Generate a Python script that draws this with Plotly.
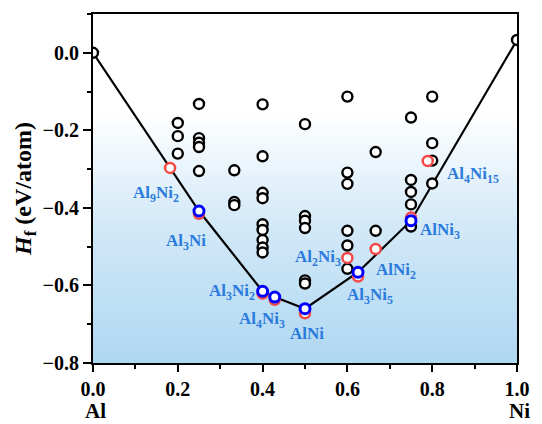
import plotly.graph_objects as go

# ---- data ----
# other (black) structures
black_x = [0.0, 1.0,
           0.2, 0.2, 0.2,
           0.25, 0.25, 0.25, 0.25, 0.25,
           0.3333, 0.3333, 0.3333,
           0.4, 0.4, 0.4, 0.4, 0.4, 0.4, 0.4, 0.4, 0.4,
           0.5, 0.5, 0.5, 0.5, 0.5, 0.5,
           0.6, 0.6, 0.6, 0.6, 0.6, 0.6,
           0.6667, 0.6667,
           0.75, 0.75, 0.75, 0.75, 0.75,
           0.8, 0.8, 0.8, 0.8]
black_y = [0.0, 0.033,
           -0.181, -0.215, -0.260,
           -0.132, -0.220, -0.232, -0.243, -0.305,
           -0.303, -0.385, -0.393,
           -0.133, -0.267, -0.361, -0.375, -0.442, -0.457, -0.483, -0.502, -0.515,
           -0.184, -0.421, -0.433, -0.452, -0.587, -0.595,
           -0.113, -0.309, -0.338, -0.459, -0.497, -0.557,
           -0.256, -0.459,
           -0.167, -0.328, -0.359, -0.391, -0.448,
           -0.113, -0.233, -0.278, -0.337]

# red (experimental / reported) phases
red_x = [0.1818, 0.25, 0.4, 0.4286, 0.5, 0.6, 0.625, 0.6667, 0.75, 0.7895]
red_y = [-0.297, -0.415, -0.621, -0.637, -0.672, -0.529, -0.577, -0.506, -0.425, -0.279]

# blue (hull) phases
blue_x = [0.25, 0.4, 0.4286, 0.5, 0.625, 0.75]
blue_y = [-0.408, -0.615, -0.630, -0.660, -0.566, -0.433]

# convex hull line
hull_x = [0.0, 0.25, 0.4, 0.4286, 0.5, 0.625, 0.75, 1.0]
hull_y = [0.0, -0.408, -0.615, -0.630, -0.660, -0.566, -0.433, 0.033]

# labels
label_text = ["Al<sub>9</sub>Ni<sub>2</sub>", "Al<sub>3</sub>Ni", "Al<sub>3</sub>Ni<sub>2</sub>",
              "Al<sub>4</sub>Ni<sub>3</sub>", "AlNi", "Al<sub>2</sub>Ni<sub>3</sub>",
              "AlNi<sub>2</sub>", "Al<sub>3</sub>Ni<sub>5</sub>", "AlNi<sub>3</sub>",
              "Al<sub>4</sub>Ni<sub>15</sub>"]
label_x = [0.148, 0.219, 0.327, 0.399, 0.505, 0.531, 0.714, 0.653, 0.818, 0.896]
label_y = [-0.364, -0.487, -0.618, -0.690, -0.723, -0.528, -0.562, -0.626, -0.459, -0.315]

end_labels = ["Al", "Ni"]

x_range = [0.0, 1.0]
y_range = [-0.8, 0.1]
x_ticks = [0.0, 0.2, 0.4, 0.6, 0.8, 1.0]
y_ticks = [-0.8, -0.6, -0.4, -0.2, 0.0]

FONT = "Liberation Serif"
LABEL_BLUE = "#2b7bdc"

fig = go.Figure()

# gradient background
fig.add_trace(go.Scatter(
    x=[x_range[0], x_range[1], x_range[1], x_range[0], x_range[0]],
    y=[y_range[0], y_range[0], y_range[1], y_range[1], y_range[0]],
    mode="lines", line=dict(width=0), fill="toself",
    fillgradient=dict(type="vertical", start=y_range[0], stop=y_range[1],
                      colorscale=[[0.0, "#aed7f1"], [0.4, "#d3e9f8"],
                                  [0.72, "#ffffff"], [1.0, "#ffffff"]]),
    hoverinfo="skip", showlegend=False))

fig.add_trace(go.Scatter(x=hull_x, y=hull_y, mode="lines",
                         line=dict(color="black", width=2.2), showlegend=False))

fig.add_trace(go.Scatter(x=black_x, y=black_y, mode="markers",
                         marker=dict(size=10, color="white", line=dict(color="black", width=2.4)),
                         showlegend=False))
fig.add_trace(go.Scatter(x=red_x, y=red_y, mode="markers",
                         marker=dict(size=10, color="white", line=dict(color="#f44848", width=2.5)),
                         showlegend=False))
fig.add_trace(go.Scatter(x=blue_x, y=blue_y, mode="markers",
                         marker=dict(size=10, color="white", line=dict(color="#0000ff", width=3)),
                         showlegend=False))

for t, lx, ly in zip(label_text, label_x, label_y):
    fig.add_annotation(x=lx, y=ly, text="<b>" + t + "</b>", showarrow=False,
                       font=dict(family=FONT, size=17, color=LABEL_BLUE),
                       xanchor="center", yanchor="middle")

for txt, px in zip(end_labels, [0.007, 1.005]):
    fig.add_annotation(x=px, y=-0.1738, xref="paper", yref="paper", text="<b>" + txt + "</b>",
                       showarrow=False, font=dict(family=FONT, size=21, color="black"),
                       xanchor="center", yanchor="bottom", borderpad=0)

axis_common = dict(showline=True, linecolor="black", linewidth=2, mirror=True,
                   ticks="outside", tickwidth=2, tickcolor="black", showgrid=False,
                   zeroline=False, tickformat=".1f",
                   tickfont=dict(family=FONT, size=20, color="black", weight="bold"))

fig.update_xaxes(range=x_range, tickvals=x_ticks, ticklen=7,
                 minor=dict(dtick=0.1, ticks="outside", ticklen=4, tickwidth=2, tickcolor="black"),
                 **axis_common)
fig.update_yaxes(range=y_range, tickvals=y_ticks, ticklen=8,
                 minor=dict(tickvals=[-0.7, -0.5, -0.3, -0.1, 0.1], ticks="outside",
                            ticklen=4, tickwidth=2, tickcolor="black"),
                 title=dict(text="<i>H</i><sub>f</sub> (eV/atom)", standoff=4,
                            font=dict(family=FONT, size=24, color="black", weight="bold")),
                 **axis_common)

fig.update_layout(width=542, height=424, margin=dict(l=93, r=16, t=12, b=61),
                  paper_bgcolor="white", plot_bgcolor="white",
                  font=dict(family=FONT))

fig.write_html("out.html")
